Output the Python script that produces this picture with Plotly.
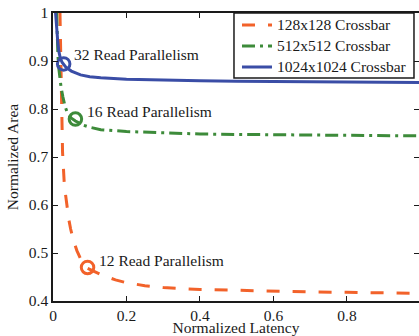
import plotly.graph_objects as go

# ---- data ----
lat_128 = [0.019, 0.020, 0.021, 0.023, 0.026, 0.031, 0.037, 0.043, 0.048, 0.056, 0.065, 0.075,
           0.094, 0.13, 0.17, 0.2, 0.25, 0.3, 0.4, 0.5, 0.6, 0.7, 0.8, 0.9, 1.0]
area_128 = [1.0, 0.95, 0.89, 0.80, 0.71, 0.64, 0.60, 0.57, 0.55, 0.525, 0.505, 0.488,
            0.468, 0.455, 0.444, 0.438, 0.432, 0.428, 0.424, 0.422, 0.420, 0.419, 0.418, 0.417, 0.416]

lat_512 = [0.010, 0.011, 0.013, 0.015, 0.018, 0.022, 0.027, 0.033, 0.040, 0.050, 0.061, 0.080,
           0.1, 0.13, 0.2, 0.3, 0.4, 0.5, 0.62, 0.8, 1.0]
area_512 = [1.0, 0.96, 0.92, 0.89, 0.865, 0.845, 0.825, 0.805, 0.79, 0.781, 0.775, 0.767,
            0.762, 0.757, 0.753, 0.750, 0.748, 0.747, 0.746, 0.745, 0.744]

lat_1024 = [0.007, 0.009, 0.011, 0.013, 0.016, 0.020, 0.025, 0.029, 0.035, 0.050, 0.075, 0.1,
            0.13, 0.2, 0.3, 0.4, 0.5, 0.62, 0.8, 1.0]
area_1024 = [1.0, 0.975, 0.955, 0.94, 0.92, 0.905, 0.897, 0.893, 0.887, 0.879, 0.871, 0.867,
             0.865, 0.862, 0.860, 0.859, 0.858, 0.857, 0.856, 0.855]

series_names = ["128x128 Crossbar", "512x512 Crossbar", "1024x1024 Crossbar"]
highlight_lat = [0.094, 0.061, 0.029]
highlight_area = [0.470, 0.779, 0.894]
highlight_labels = ["12 Read Parallelism", "16 Read Parallelism", "32 Read Parallelism"]

x_tick_vals = [0, 0.2, 0.4, 0.6, 0.8]
x_tick_text = ["0", "0.2", "0.4", "0.6", "0.8"]
y_tick_vals = [0.4, 0.5, 0.6, 0.7, 0.8, 0.9, 1.0]
y_tick_text = ["0.4", "0.5", "0.6", "0.7", "0.8", "0.9", "1"]

# ---- styling ----
FONT = "Times New Roman, Liberation Serif, serif"
FS = 15.5
TXT = "#1a1a1a"
colors = ["#F2622A", "#3D8B3A", "#3A4DA6"]
dashes = ["13px,13px", "13px,5px,3px,5px", "solid"]
shifts = [(9, 7), (10, 8), (8, 9)]

xs = [lat_128, lat_512, lat_1024]
ys = [area_128, area_512, area_1024]

fig = go.Figure()
for i in range(3):
    fig.add_trace(go.Scatter(
        x=xs[i], y=ys[i], mode="lines",
        name='<span style="font-size:%gpx">%s</span>' % (FS, series_names[i]),
        line=dict(color=colors[i], width=3, dash=dashes[i]),
    ))
for i in range(3):
    fig.add_trace(go.Scatter(
        x=[highlight_lat[i]], y=[highlight_area[i]], mode="markers", showlegend=False,
        marker=dict(symbol="circle-open", size=12.5, color=colors[i],
                    line=dict(width=3, color=colors[i])),
    ))
# invisible trace to carry the mirrored right-hand ticks
fig.add_trace(go.Scatter(x=[None], y=[None], yaxis="y2", showlegend=False, hoverinfo="skip"))

for i in range(3):
    fig.add_annotation(
        x=highlight_lat[i], y=highlight_area[i], text=highlight_labels[i], showarrow=False,
        xanchor="left", yanchor="middle", xshift=shifts[i][0], yshift=shifts[i][1],
        font=dict(family=FONT, size=FS, color=TXT),
    )

# legend frame (white box with dark border, drawn over the curves)
fig.add_shape(type="rect", xref="paper", yref="paper",
              x0=0.4945, x1=0.9863, y0=0.774, y1=1.0,
              fillcolor="white", line=dict(color=TXT, width=1.5), layer="above")

axis_common = dict(
    ticks="inside", ticklen=5, tickwidth=1, tickcolor=TXT,
    showgrid=False, zeroline=False, automargin=False,
    tickfont=dict(family=FONT, size=FS, color=TXT),
)

fig.update_layout(
    width=419, height=336,
    margin=dict(l=53, r=0, t=13, b=35, autoexpand=False),
    paper_bgcolor="white", plot_bgcolor="white",
    font=dict(family=FONT, size=FS, color=TXT),
    xaxis=dict(
        range=[0, 0.996], tickvals=x_tick_vals, ticktext=x_tick_text,
        showline=True, linecolor=TXT, linewidth=1.5, mirror="ticks",
        title=dict(text="Normalized Latency", font=dict(family=FONT, size=FS, color=TXT), standoff=5),
        **axis_common,
    ),
    yaxis=dict(
        range=[0.4, 1.0], tickvals=y_tick_vals, ticktext=y_tick_text,
        showline=True, linecolor=TXT, linewidth=1.5, mirror=False,
        title=dict(text="Normalized Area", font=dict(family=FONT, size=FS, color=TXT), standoff=6),
        **axis_common,
    ),
    yaxis2=dict(
        overlaying="y", side="right", matches="y", anchor="x",
        range=[0.4, 1.0], tickvals=y_tick_vals, showticklabels=False, showline=False,
        ticks="inside", ticklen=5, tickcolor=TXT, showgrid=False, zeroline=False,
    ),
    legend=dict(
        x=0.5027, xanchor="left", y=1.012, yanchor="top",
        bgcolor="rgba(0,0,0,0)", borderwidth=0,
        font=dict(family=FONT, size=13.8, color=TXT),
        tracegroupgap=0,
    ),
    showlegend=True,
)

fig.write_html("out.html")
